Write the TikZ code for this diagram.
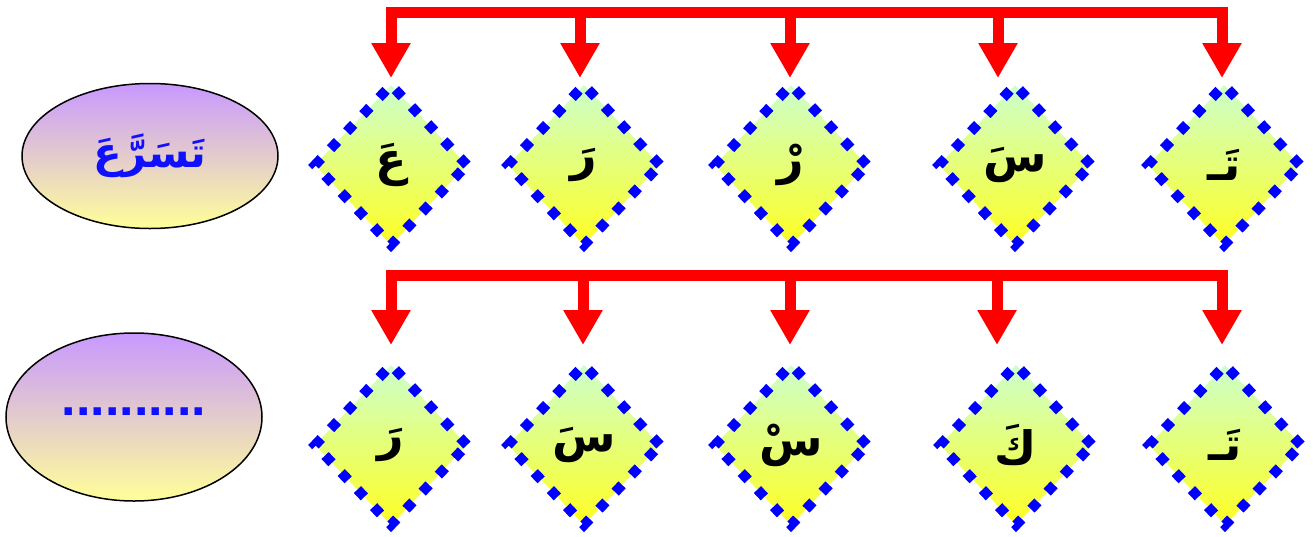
\documentclass[tikz,border=0pt]{standalone}
\usepackage{fontspec}
\newfontfamily\arabicfont[Script=Arabic]{DejaVu Sans}
\newfontfamily\dotfont{Liberation Sans}
\TeXXeTstate=1
\usetikzlibrary{shapes.geometric,arrows.meta}
\definecolor{dgreen}{HTML}{CCFFCC}
\definecolor{dyellow}{HTML}{FFFF22}
\definecolor{epurple}{HTML}{C898FF}
\definecolor{eyellow}{HTML}{FFFF99}
\definecolor{tblue}{HTML}{1010FF}
\tikzset{
  letterbox/.style={diamond, draw=blue, line width=10pt, dash pattern=on 10pt off 13.5pt,
    top color=dgreen, bottom color=dyellow, minimum width=156pt, minimum height=164pt,
    inner sep=0pt, font=\arabicfont\bfseries\fontsize{46}{52}\selectfont},
  wordbox/.style={ellipse, draw=black, line width=1.5pt, top color=epurple, bottom color=eyellow,
    inner sep=0pt, text=tblue},
  bus/.style={draw=red, line width=11pt, line cap=rect},
  arr/.style={draw=red, line width=11pt, -{Triangle[width=37pt,length=35pt]}}
}
\begin{document}
\begin{tikzpicture}[x=1pt,y=-1pt]
\useasboundingbox (0,0) rectangle (1313,536);
% top row
\node[letterbox] (a1) at (391,165) {\beginR عَ\endR};
\node[letterbox] (a2) at (584,165) {\beginR رَ\endR};
\node[letterbox] (a3) at (791,165) {\beginR رْ\endR};
\node[letterbox] (a4) at (1015,165) {\beginR سَ\endR};
\node[letterbox] (a5) at (1224,165) {\beginR تَـ\endR};
% bottom row
\node[letterbox] (b1) at (391,445) {\beginR رَ\endR};
\node[letterbox] (b2) at (584,445) {\beginR سَ\endR};
\node[letterbox] (b3) at (791,445) {\beginR سْ\endR};
\node[letterbox] (b4) at (1016,445) {\beginR كَ\endR};
\node[letterbox] (b5) at (1225,445) {\beginR تَـ\endR};
% ellipses
\node[wordbox, minimum width=256pt, minimum height=145pt,
  font=\arabicfont\bfseries\fontsize{42}{48}\selectfont] (w1) at (150,156) {\beginR تَسَرَّعَ\endR};
\node[wordbox, minimum width=256pt, minimum height=168pt,
  font=\dotfont\bfseries\fontsize{52}{56}\selectfont] (w2) at (134,417) {\raisebox{10pt}{..........}};
% top bus
\coordinate (t1) at (391,12);
\coordinate (t2) at (580,12);
\coordinate (t3) at (790,12);
\coordinate (t4) at (998,12);
\coordinate (t5) at (1222,12);
\draw[bus] (t1) -- (t5);
\draw[arr] (t1) -- (t1 |- a1.north);
\draw[arr] (t2) -- (t2 |- a2.north);
\draw[arr] (t3) -- (t3 |- a3.north);
\draw[arr] (t4) -- (t4 |- a4.north);
\draw[arr] (t5) -- (t5 |- a5.north);
% bottom bus
\coordinate (s1) at (391,275);
\coordinate (s2) at (583,275);
\coordinate (s3) at (790,275);
\coordinate (s4) at (997,275);
\coordinate (s5) at (1222,275);
\draw[bus] (s1) -- (s5);
\draw[arr] (s1) -- ([yshift=13pt]s1 |- b1.north);
\draw[arr] (s2) -- ([yshift=13pt]s2 |- b2.north);
\draw[arr] (s3) -- ([yshift=13pt]s3 |- b3.north);
\draw[arr] (s4) -- ([yshift=13pt]s4 |- b4.north);
\draw[arr] (s5) -- ([yshift=13pt]s5 |- b5.north);
\end{tikzpicture}
\end{document}
